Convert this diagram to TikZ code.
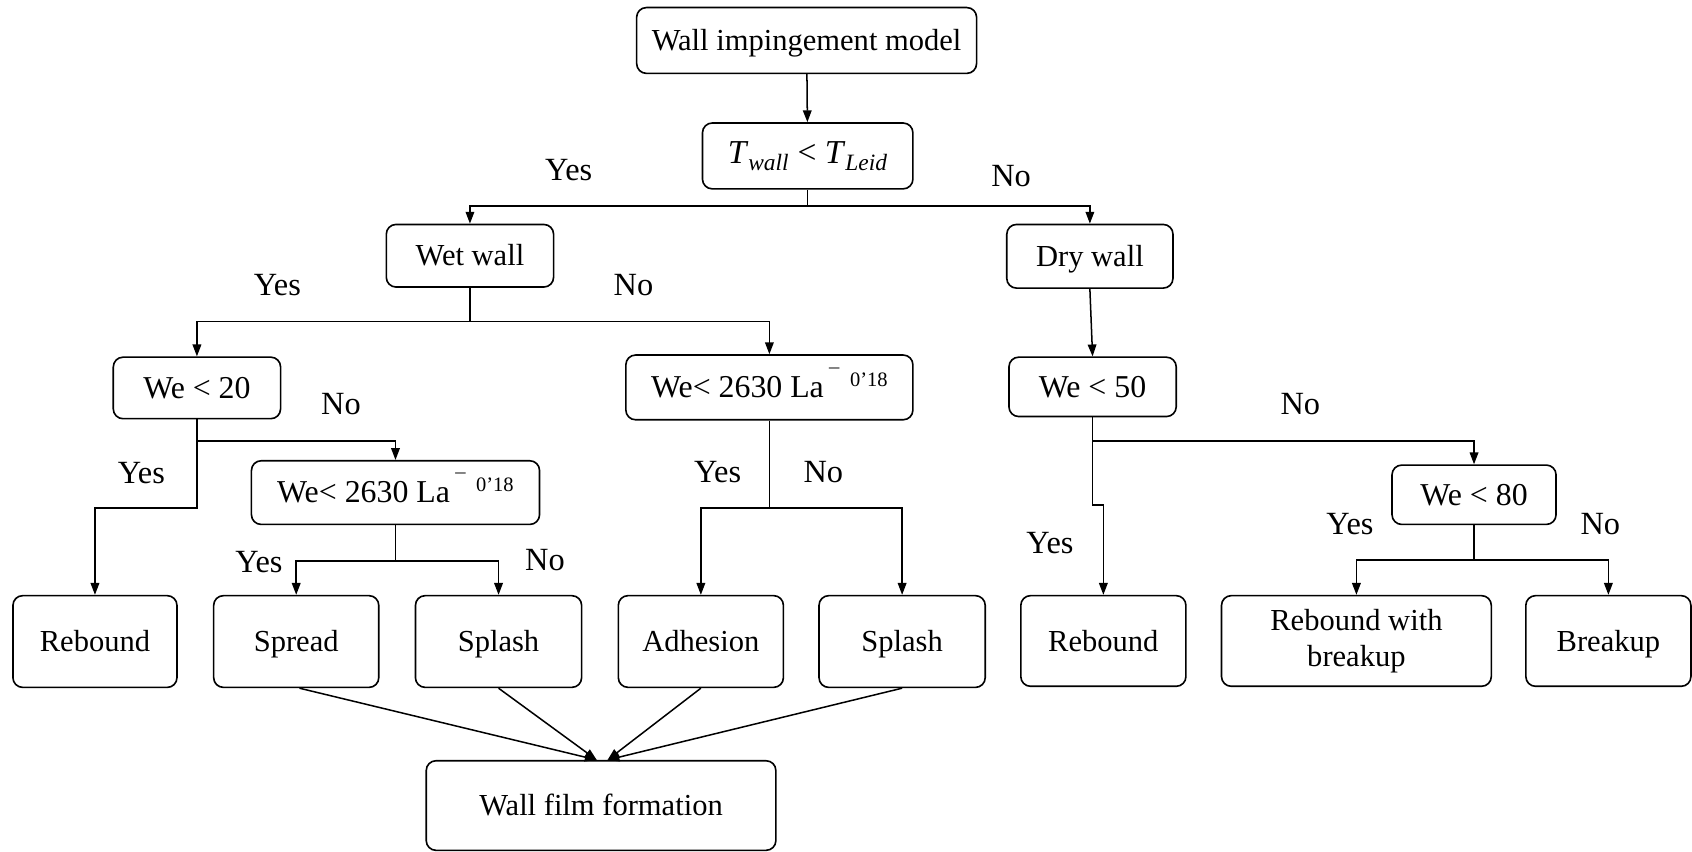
\documentclass[tikz,border=0pt]{standalone}
\usepackage{fontspec}
\setmainfont{Liberation Serif}
\usetikzlibrary{arrows.meta,calc}
\newcommand{\lapow}{La\,\raisebox{0.95ex}{\fontsize{19}{19}\selectfont\textasciimacron}\,\,\raisebox{0.75ex}{\fontsize{19}{19}\selectfont 0'18}}
\begin{document}
\begin{tikzpicture}[x=1pt,y=-1pt,
  box/.style={draw,rounded corners=9pt,line width=1.5pt,align=center,inner sep=0pt,
    font=\fontsize{28.3}{33}\selectfont},
  one/.style={box,text height=19pt,text depth=0pt},
  webox/.style={one,font=\fontsize{29.5}{33}\selectfont},
  lbl/.style={font=\fontsize{30}{34}\selectfont},
  conn/.style={line width=1.4pt},
  arr/.style={conn,-{Triangle[length=11pt,width=8pt]}}]
\useasboundingbox (0,0) rectangle (1568,789);
% nodes
\node[one,minimum width=315pt,minimum height=61pt] (top) at (747.5,37.5) {Wall impingement model};
\node[box,font=\fontsize{31}{33}\selectfont,minimum width=195pt,minimum height=61pt] (T) at (748.5,144.5) {\textit{T}\textsubscript{\textit{wall}} {<} \textit{T}\textsubscript{\textit{Leid}}};
\node[one,minimum width=155pt,minimum height=58pt] (wet) at (435.5,237) {Wet wall};
\node[one,minimum width=154pt,minimum height=59pt] (dry) at (1010,237.5) {Dry wall};
\node[webox,minimum width=155pt,minimum height=57pt] (we20) at (182.5,359.5) {We {<} 20};
\node[webox,minimum width=266pt,minimum height=60pt] (weA) at (713,359) {We{<} 2630 \lapow};
\node[webox,minimum width=155pt,minimum height=55pt] (we50) at (1012.5,358.5) {We {<} 50};
\node[webox,minimum width=267pt,minimum height=59pt] (weB) at (366.5,456.5) {We{<} 2630 \lapow};
\node[webox,minimum width=152pt,minimum height=55pt] (we80) at (1366,458.5) {We {<} 80};
\node[one,minimum width=152pt,minimum height=85pt] (reb1) at (88,594.5) {Rebound};
\node[one,minimum width=153pt,minimum height=85pt] (spread) at (274.5,594.5) {Spread};
\node[one,minimum width=154pt,minimum height=85pt] (splash1) at (462,594.5) {Splash};
\node[one,minimum width=153pt,minimum height=85pt] (adh) at (649.5,594.5) {Adhesion};
\node[one,minimum width=154pt,minimum height=85pt] (splash2) at (836,594.5) {Splash};
\node[one,minimum width=153pt,minimum height=84pt] (reb2) at (1022.5,594) {Rebound};
\node[box,minimum width=250pt,minimum height=84pt] (rwb) at (1257,594) {Rebound with\\breakup};
\node[one,minimum width=153pt,minimum height=84pt] (brk) at (1490.5,594) {Breakup};
\node[one,minimum width=324pt,minimum height=83pt] (wf) at (557,746.5) {Wall film formation};
% connectors
\draw[arr] (top) -- (T);
\coordinate (j1) at ($(T.south)+(0,15)$);
\draw[conn] (T.south) -- (j1);
\draw[arr] (j1) -| (wet.north);
\draw[arr] (j1) -| (dry.north);
\coordinate (j2) at ($(wet.south)+(0,31)$);
\draw[conn] (wet.south) -- (j2);
\draw[arr] (j2) -| (we20.north);
\draw[arr] (j2) -| (weA.north);
\draw[arr] (dry.south) -- (we50.north);
\coordinate (j3) at ($(we20.south)+(0,20)$);
\coordinate (j4) at ($(we20.south)+(0,82)$);
\draw[arr] (we20.south) -- (j3) -| (weB.north);
\draw[arr] (j3) -- (j4) -| (reb1.north);
\coordinate (j5) at ($(weB.south)+(0,33)$);
\draw[conn] (weB.south) -- (j5);
\draw[arr] (j5) -| (spread.north);
\draw[arr] (j5) -| (splash1.north);
\coordinate (j6) at ($(weA.south)+(0,81)$);
\draw[conn] (weA.south) -- (j6);
\draw[arr] (j6) -| (adh.north);
\draw[arr] (j6) -| (splash2.north);
\coordinate (j7) at ($(we50.south)+(0,22)$);
\coordinate (j8) at ($(we50.south)+(0,81)$);
\draw[arr] (we50.south) -- (j7) -| (we80.north);
\draw[arr] (j7) -- (j8) -| (reb2.north);
\coordinate (j9) at ($(we80.south)+(0,32)$);
\draw[conn] (we80.south) -- (j9);
\draw[arr] (j9) -| (rwb.north);
\draw[arr] (j9) -| (brk.north);
\coordinate (wl) at ($(wf.north)+(-4,0)$);
\coordinate (wr) at ($(wf.north)+(6,0)$);
\draw[arr] ($(spread.south)+(3,0)$) -- (wl);
\draw[arr] (splash1.south) -- (wl);
\draw[arr] (adh.south) -- (wr);
\draw[arr] (splash2.south) -- (wr);
% labels
\node[lbl] (l1) at (527,158) {Yes};
\node[lbl] (l2) at (937,163) {No};
\node[lbl] (l3) at (257,264) {Yes};
\node[lbl] (l4) at (587,264) {No};
\node[lbl] (l5) at (316,374) {No};
\node[lbl] (l6) at (131,438) {Yes};
\node[lbl] (l7) at (665,437) {Yes};
\node[lbl] (l8) at (763,437) {No};
\node[lbl] (l9) at (240,521) {Yes};
\node[lbl] (l10) at (505,519) {No};
\node[lbl] (l11) at (1205,374) {No};
\node[lbl] (l12) at (973,503) {Yes};
\node[lbl] (l13) at (1251,486) {Yes};
\node[lbl] (l14) at (1483,486) {No};
\end{tikzpicture}
\end{document}
